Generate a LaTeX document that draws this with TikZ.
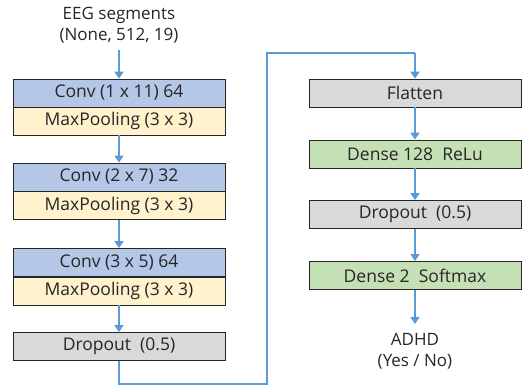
\documentclass[tikz,border=0pt]{standalone}
\usepackage{fontspec}
\setmainfont{Open Sans}
\usetikzlibrary{arrows.meta}
\definecolor{convc}{HTML}{B4C7E7}
\definecolor{poolc}{HTML}{FFF2CC}
\definecolor{grayc}{HTML}{D9D9D9}
\definecolor{greenc}{HTML}{C5E0B4}
\definecolor{arrc}{HTML}{5B9BD5}
\begin{document}
\begin{tikzpicture}[x=1pt,y=-1pt,
  layer/.style={draw=black!85,line width=0.8pt,minimum height=28pt,inner sep=0pt,font=\fontsize{17.5}{20}\selectfont,text=black!85},
  lbox/.style={layer,minimum width=212pt},
  rbox/.style={layer,minimum width=212pt},
  txt/.style={font=\fontsize{17}{21.5}\selectfont,text=black!85,align=center},
  arr/.style={draw=arrc,line width=2pt,-{Triangle[length=7pt,width=9pt]}},
  lnk/.style={draw=arrc,line width=1.5pt}]
\useasboundingbox (0,0) rectangle (522,386);
\node[txt] (in) at (119,25) {EEG segments\\(None, 512, 19)};
\node[lbox,fill=convc] (c1) at (119,93) {Conv (1 x 11) 64};
\node[lbox,fill=poolc] (p1) at (119,121) {MaxPooling (3 x 3)};
\node[lbox,fill=convc] (c2) at (119,177) {Conv (2 x 7) 32};
\node[lbox,fill=poolc] (p2) at (119,205.5) {MaxPooling (3 x 3)};
\node[lbox,fill=convc] (c3) at (119,262.5) {Conv (3 x 5) 64};
\node[lbox,fill=poolc] (p3) at (119,291) {MaxPooling (3 x 3)};
\node[lbox,fill=grayc] (d1) at (119,346.5) {Dropout~~(0.5)};
\node[rbox,fill=grayc] (fl) at (415,93) {Flatten};
\node[rbox,fill=greenc] (de1) at (415,154) {Dense 128~~ReLu};
\node[rbox,fill=grayc] (d2) at (415,214.5) {Dropout~~(0.5)};
\node[rbox,fill=greenc] (de2) at (415,275.5) {Dense 2~~Softmax};
\node[txt] (out) at (415,351) {ADHD\\(Yes / No)};
\coordinate (b1) at (119,384);
\coordinate (b2) at (267,384);
\coordinate (b3) at (267,53);
\coordinate (b4) at (415,53);
\draw[arr] (119,50) -- (c1.north);
\draw[arr] (p1.south) -- (c2.north);
\draw[arr] (p2.south) -- (c3.north);
\draw[arr] (p3.south) -- (d1.north);
\draw[lnk] (d1.south) -- (b1) -- (b2) -- (b3) -- (b4);
\draw[arr] (b4) -- (fl.north);
\draw[arr] (fl.south) -- (de1.north);
\draw[arr] (de1.south) -- (d2.north);
\draw[arr] (d2.south) -- (de2.north);
\draw[arr] (de2.south) -- (415,324);
\end{tikzpicture}
\end{document}
